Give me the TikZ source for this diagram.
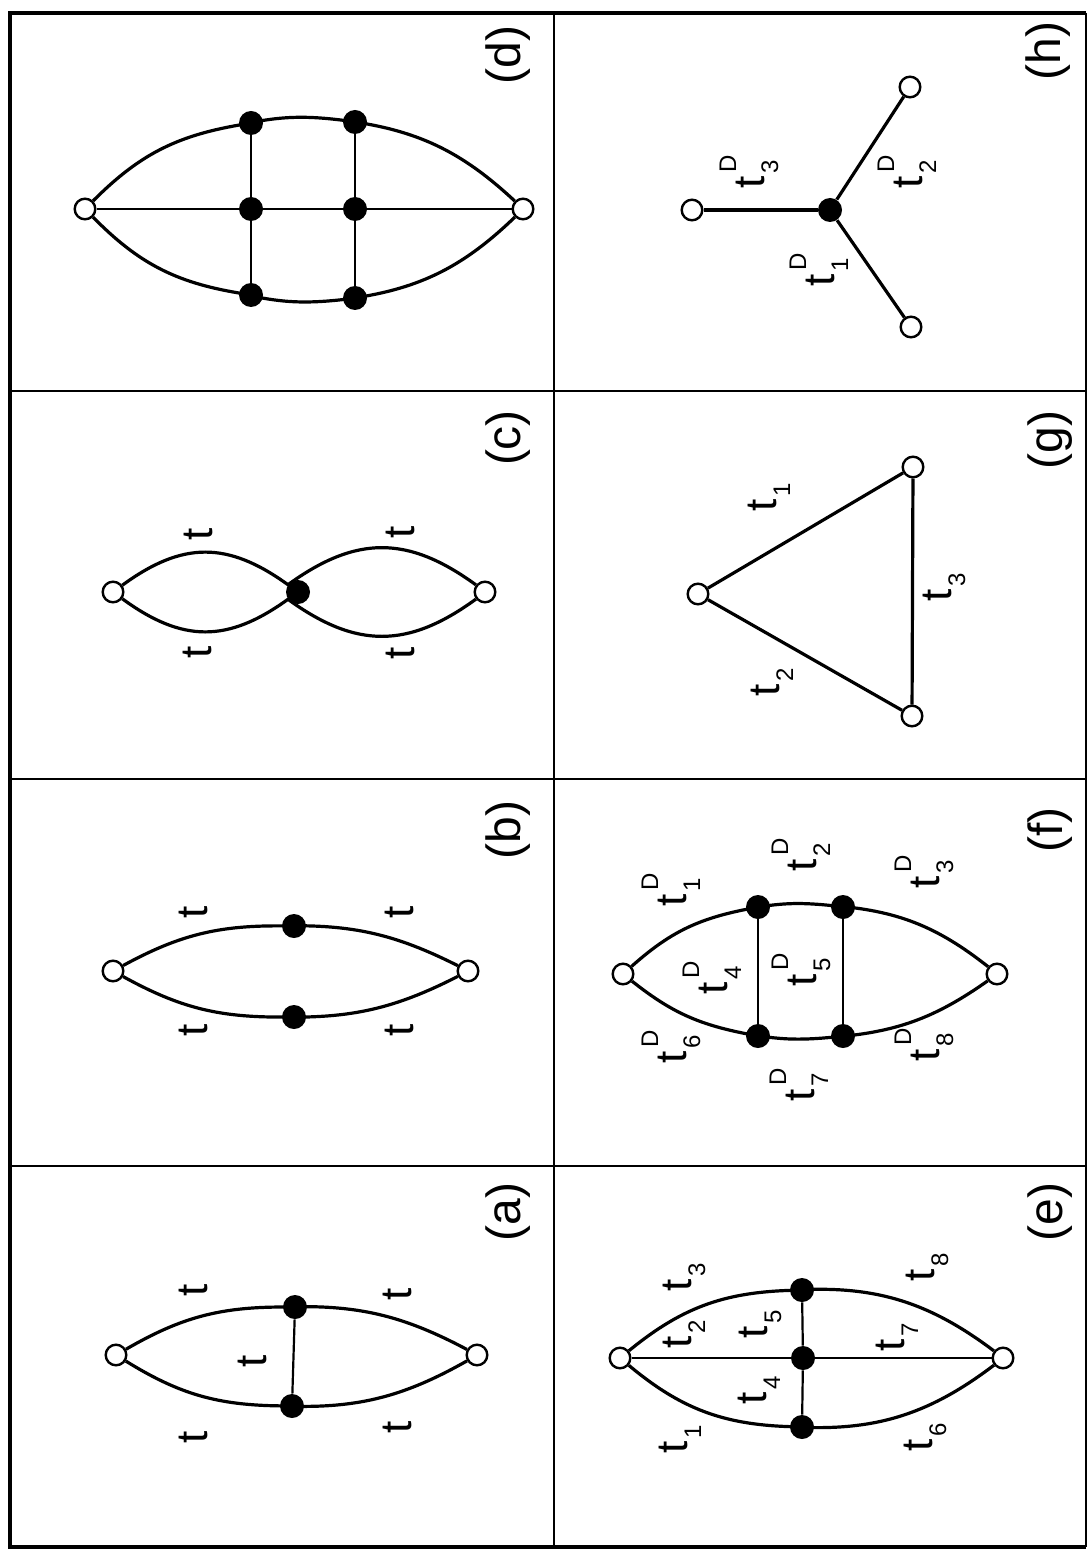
\documentclass[tikz,border=0pt]{standalone}
\usepackage{fontspec}
\setmainfont{Liberation Sans}
\newcommand{\scr}{\fontsize{12}{12}\selectfont}
\newcommand{\tsb}[1]{t\rlap{\smash{\kern1pt\raisebox{-7pt}{\scr #1}}}}
\newcommand{\tsd}[1]{t\rlap{\smash{\kern1.5pt\raisebox{14pt}{\scr D}}}\rlap{\smash{\kern1pt\raisebox{-7pt}{\scr #1}}}}
\tikzset{
  opennode/.style={circle, draw, line width=1.2pt, fill=white, minimum size=10.3pt, inner sep=0pt},
  blacknode/.style={circle, fill=black, minimum size=12pt, inner sep=0pt},
  arcl/.style={line width=1.6pt},
  thinl/.style={line width=1.1pt},
  tlab/.style={rotate=90, inner sep=0pt, font=\fontsize{22}{22}\selectfont},
  caplab/.style={rotate=90, inner sep=0pt, font=\fontsize{24}{24}\selectfont},
}
\begin{document}
\begin{tikzpicture}[x=0.5pt,y=0.5pt]
\useasboundingbox (0,0) rectangle (1089,-1551);
% frame
\draw[line width=0.8pt] (1086,-13) -- (1086,-1547);
\draw[line width=2.2pt] (1086,-13) -- (10,-13) -- (10,-1547) -- (1086,-1547);
\draw[line width=1pt] (554,-13) -- (554,-1547);
\draw[line width=1pt] (10,-391) -- (1086,-391);
\draw[line width=1pt] (10,-779) -- (1086,-779);
\draw[line width=1pt] (10,-1166) -- (1086,-1166);

% ---------- (a)
\node[opennode] (a1) at (116,-1355) {};
\node[opennode] (a2) at (477,-1355) {};
\node[blacknode] (a3) at (295,-1307) {};
\node[blacknode] (a4) at (292,-1406) {};
\draw[arcl] (a1) to[bend left=15] (a3) to[bend left=15] (a2);
\draw[arcl] (a1) to[bend right=15.5] (a4) to[bend right=16] (a2);
\draw[thinl] (a3) -- (a4);
\node[tlab] (at1) at (193,-1290) {t};
\node[tlab] (at2) at (397,-1294) {t};
\node[tlab] (at3) at (252,-1361) {t};
\node[tlab] (at4) at (193,-1437) {t};
\node[tlab] (at5) at (397,-1427) {t};
\node[caplab] (la) at (508,-1212) {(a)};

% ---------- (b)
\node[opennode] (b1) at (113,-971) {};
\node[opennode] (b2) at (468,-971) {};
\node[blacknode] (b3) at (294,-926) {};
\node[blacknode] (b4) at (294,-1017) {};
\draw[arcl] (b1) to[bend left=14.5] (b3) to[bend left=14] (b2);
\draw[arcl] (b1) to[bend right=14.5] (b4) to[bend right=14] (b2);
\node[tlab] (bt1) at (193,-912) {t};
\node[tlab] (bt2) at (399,-912) {t};
\node[tlab] (bt3) at (193,-1030) {t};
\node[tlab] (bt4) at (399,-1030) {t};
\node[caplab] (lb) at (508,-830) {(b)};

% ---------- (c)
\node[opennode] (c1) at (113,-592) {};
\node[opennode] (c2) at (485,-592) {};
\node[blacknode] (c3) at (298,-592) {};
\draw[arcl] (c1) to[bend left=36, looseness=1.15] (c3) to[bend left=36, looseness=1.15] (c2);
\draw[arcl] (c1) to[bend right=36, looseness=1.15] (c3) to[bend right=36, looseness=1.15] (c2);
\node[tlab] (ct1) at (198,-534) {t};
\node[tlab] (ct2) at (400,-532) {t};
\node[tlab] (ct3) at (197,-652) {t};
\node[tlab] (ct4) at (400,-653) {t};
\node[caplab] (lc) at (508,-438) {(c)};

% ---------- (d)
\node[opennode] (d1) at (85,-209) {};
\node[opennode] (d2) at (523,-209) {};
\node[blacknode] (d3) at (251,-123) {};
\node[blacknode] (d4) at (355,-122) {};
\node[blacknode] (d5) at (251,-209) {};
\node[blacknode] (d6) at (355,-209) {};
\node[blacknode] (d7) at (251,-295) {};
\node[blacknode] (d8) at (355,-298) {};
\draw[arcl] (d1) to[bend left=17.6] (d3) to[bend left=9.7] (d4) to[bend left=17.8] (d2);
\draw[arcl] (d1) to[bend right=18] (d7) to[bend right=9.9] (d8) to[bend right=18.3] (d2);
\draw[thinl] (d1) -- (d5) -- (d6) -- (d2);
\draw[thinl] (d3) -- (d5) -- (d7);
\draw[thinl] (d4) -- (d6) -- (d8);
\node[caplab] (ld) at (508,-55) {(d)};

% ---------- (e)
\node[opennode] (e1) at (620,-1358) {};
\node[opennode] (e2) at (1003,-1358) {};
\node[blacknode] (e3) at (802,-1290) {};
\node[blacknode] (e4) at (803,-1358) {};
\node[blacknode] (e5) at (802,-1427) {};
\draw[arcl] (e1) to[bend left=18.7] (e3) to[bend left=20.5] (e2);
\draw[arcl] (e1) to[bend right=19] (e5) to[bend right=20.5] (e2);
\draw[thinl] (e1) -- (e4) -- (e2);
\draw[thinl] (e3) -- (e4) -- (e5);
\node[tlab] (et1) at (673,-1447) {\tsb{1}};
\node[tlab] (et2) at (677,-1342) {\tsb{2}};
\node[tlab] (et3) at (677,-1285) {\tsb{3}};
\node[tlab] (et4) at (752,-1398) {\tsb{4}};
\node[tlab] (et5) at (753,-1332) {\tsb{5}};
\node[tlab] (et6) at (918,-1445) {\tsb{6}};
\node[tlab] (et7) at (890,-1345) {\tsb{7}};
\node[tlab] (et8) at (920,-1275) {\tsb{8}};
\node[caplab] (le) at (1050,-1212) {(e)};

% ---------- (f)
\node[opennode] (f1) at (623,-974) {};
\node[opennode] (f2) at (997,-974) {};
\node[blacknode] (f3) at (758,-907) {};
\node[blacknode] (f4) at (843,-907) {};
\node[blacknode] (f5) at (758,-1036) {};
\node[blacknode] (f6) at (843,-1036) {};
\draw[arcl] (f1) to[bend left=15.2] (f3) to[bend left=8.5] (f4) to[bend left=17] (f2);
\draw[arcl] (f1) to[bend right=13.7] (f5) to[bend right=7.8] (f6) to[bend right=15.4] (f2);
\draw[thinl] (f3) -- (f5);
\draw[thinl] (f4) -- (f6);
\node[tlab] (ft1) at (672,-900) {\tsd{1}};
\node[tlab] (ft2) at (802,-865) {\tsd{2}};
\node[tlab] (ft3) at (925,-882) {\tsd{3}};
\node[tlab] (ft4) at (713,-988) {\tsd{4}};
\node[tlab] (ft5) at (802,-980) {\tsd{5}};
\node[tlab] (ft6) at (672,-1057) {\tsd{6}};
\node[tlab] (ft7) at (800,-1095) {\tsd{7}};
\node[tlab] (ft8) at (925,-1055) {\tsd{8}};
\node[caplab] (lf) at (1050,-830) {(f)};

% ---------- (g)
\node[opennode] (g1) at (698,-594) {};
\node[opennode] (g2) at (913,-467) {};
\node[opennode] (g3) at (912,-716) {};
\draw[arcl] (g1) -- (g2);
\draw[arcl] (g1) -- (g3);
\draw[arcl] (g2) -- (g3);
\node[tlab] (gt1) at (762,-505) {\tsb{1}};
\node[tlab] (gt2) at (765,-690) {\tsb{2}};
\node[tlab] (gt3) at (937,-595) {\tsb{3}};
\node[caplab] (lg) at (1050,-440) {(g)};

% ---------- (h)
\node[blacknode] (h0) at (830,-210) {};
\node[opennode] (h1) at (692,-210) {};
\node[opennode] (h2) at (910,-87) {};
\node[opennode] (h3) at (911,-327) {};
\draw[arcl] (h0) -- (h1);
\draw[arcl] (h0) -- (h2);
\draw[arcl] (h0) -- (h3);
\node[tlab] (ht1) at (820,-280) {\tsd{1}};
\node[tlab] (ht2) at (908,-182) {\tsd{2}};
\node[tlab] (ht3) at (750,-182) {\tsd{3}};
\node[caplab] (lh) at (1048,-51) {(h)};
\end{tikzpicture}
\end{document}
